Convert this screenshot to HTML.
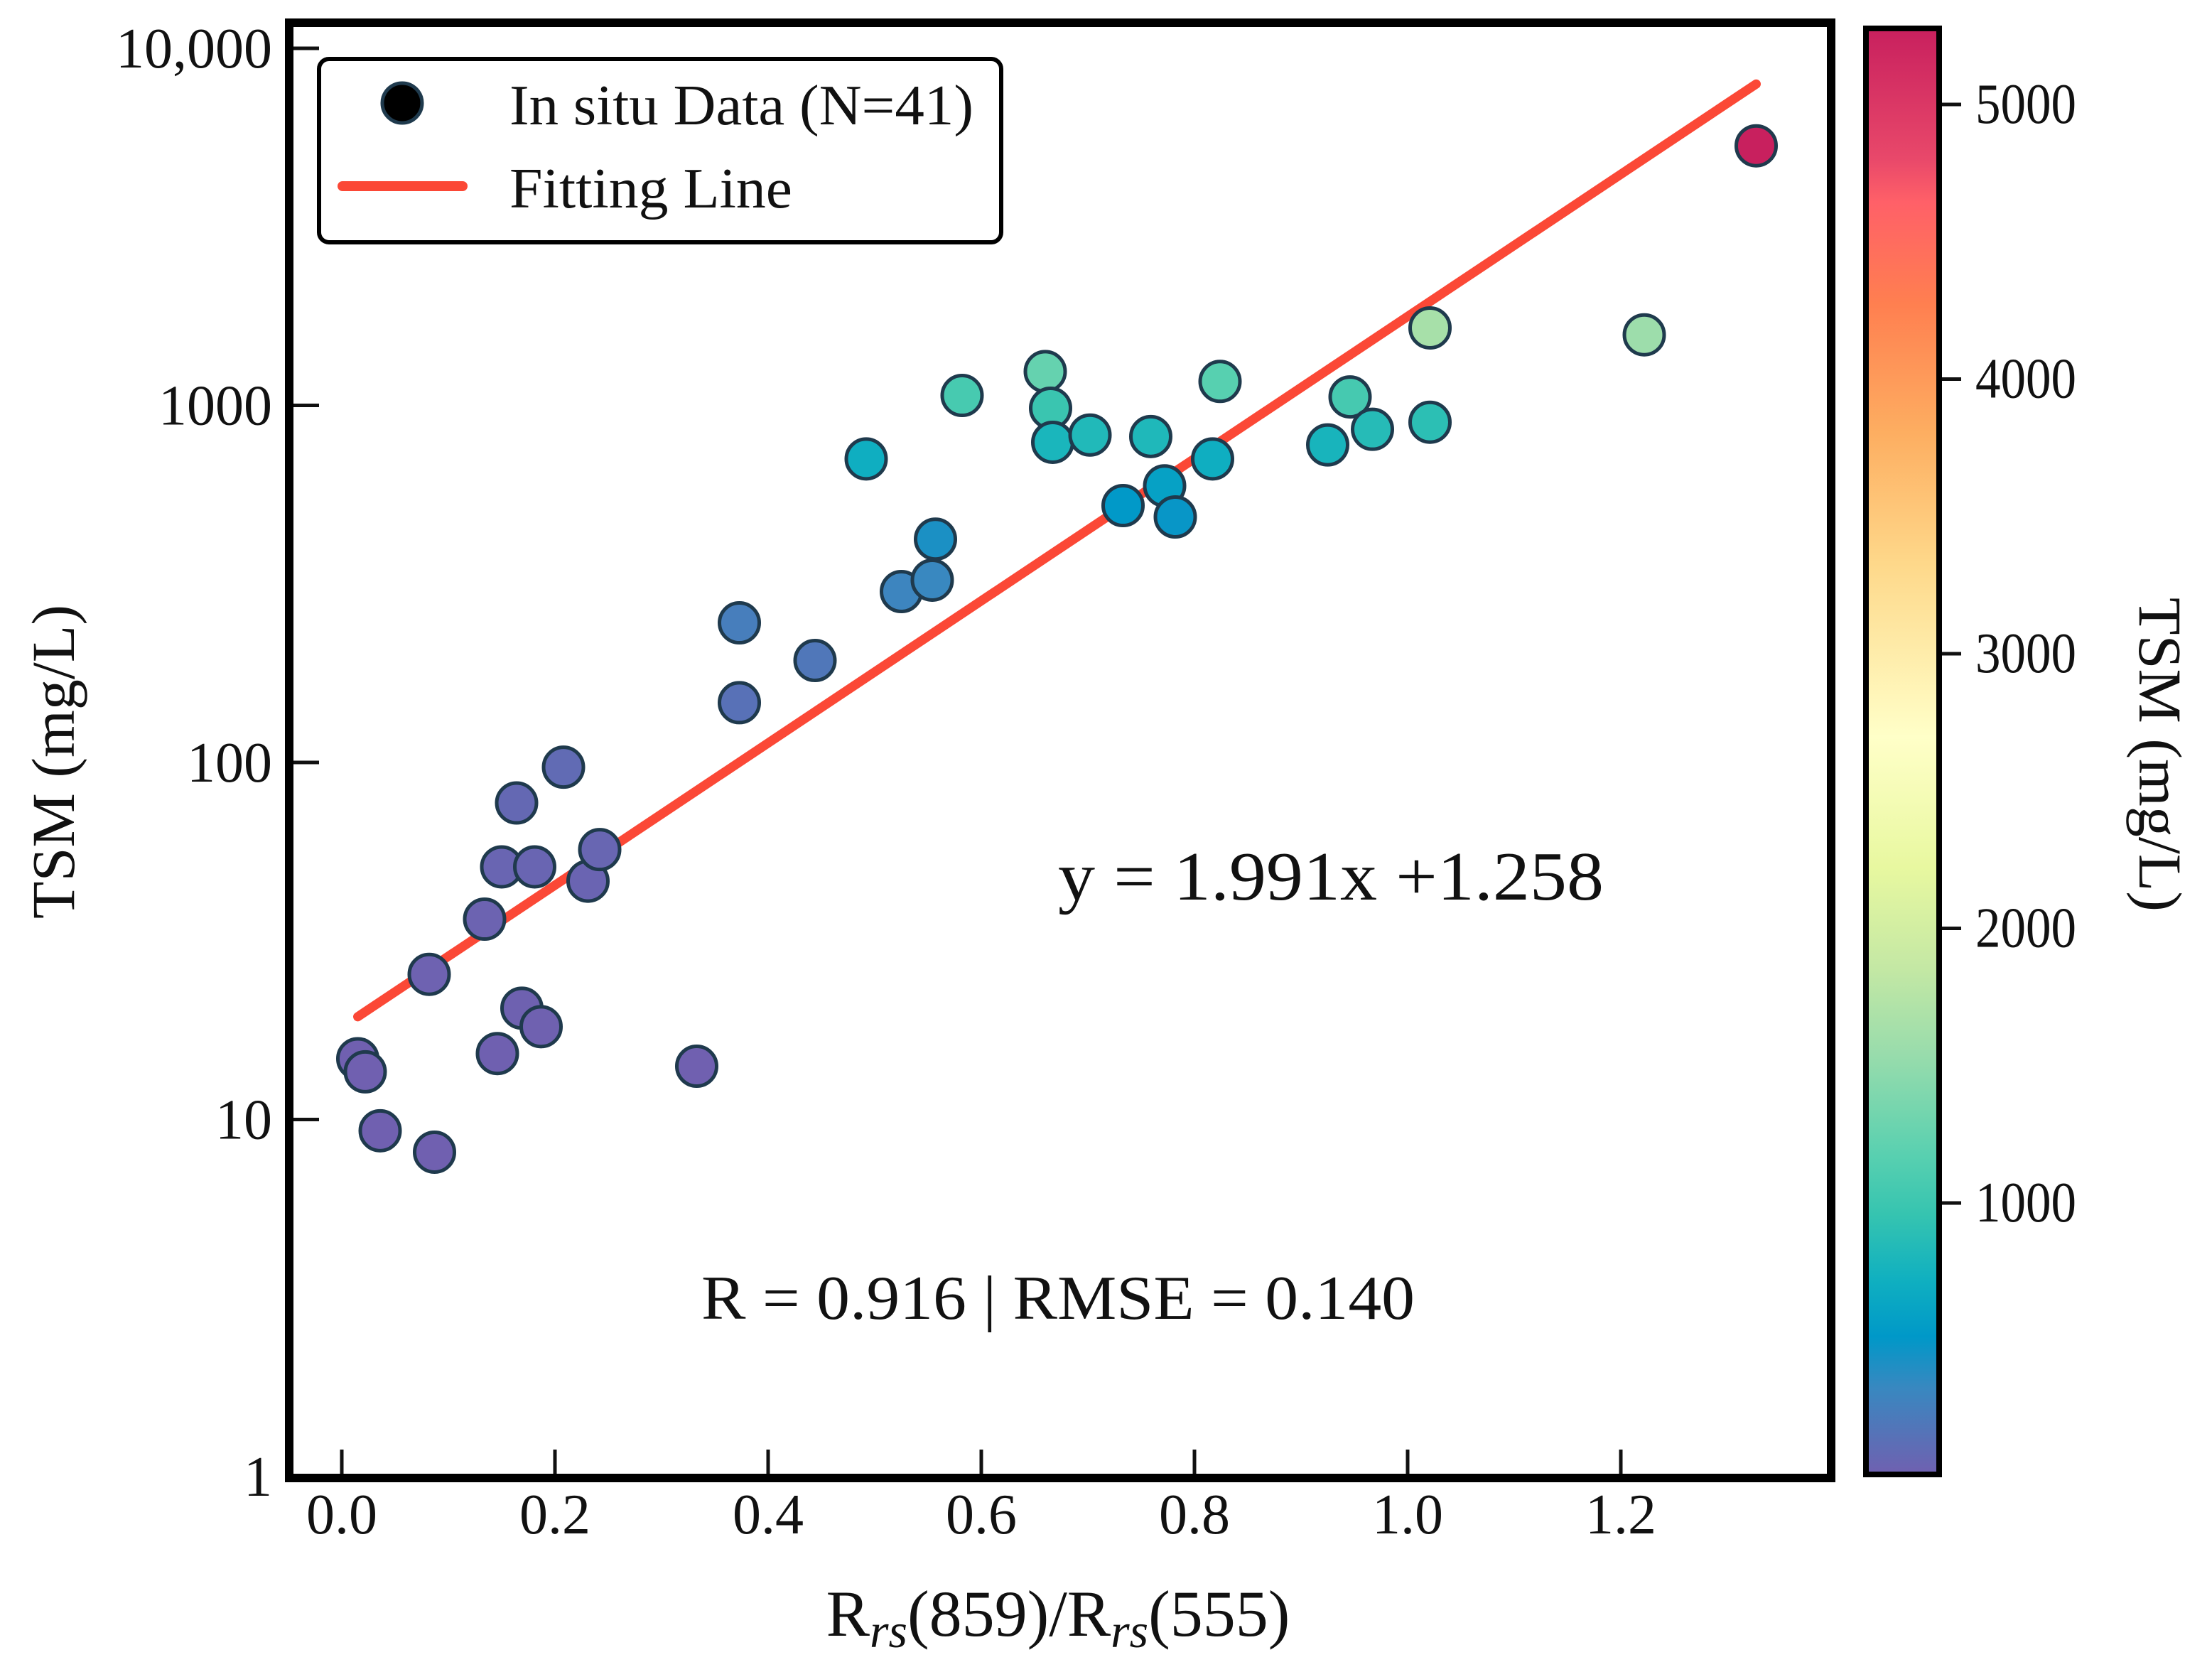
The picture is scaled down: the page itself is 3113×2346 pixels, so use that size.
<!DOCTYPE html>
<html><head><meta charset="utf-8"><style>
html,body{margin:0;padding:0;background:#fff}
svg{display:block}
text{font-family:"Liberation Serif",serif;fill:#111}
</style></head><body>
<svg id="chart" width="3113" height="2346" viewBox="0 0 3113 2346" xmlns="http://www.w3.org/2000/svg">
<defs>
<linearGradient id="cbgrad" x1="0" y1="1" x2="0" y2="0">
<stop offset="0" stop-color="#7060b0"/>
<stop offset="0.06" stop-color="#3888c0"/>
<stop offset="0.095" stop-color="#0098c8"/>
<stop offset="0.135" stop-color="#10b0c0"/>
<stop offset="0.18" stop-color="#36c4b0"/>
<stop offset="0.22" stop-color="#58d0b0"/>
<stop offset="0.29" stop-color="#98dcac"/>
<stop offset="0.35" stop-color="#c4e8a4"/>
<stop offset="0.42" stop-color="#e8f8a0"/>
<stop offset="0.51" stop-color="#ffffc8"/>
<stop offset="0.63" stop-color="#fed88a"/>
<stop offset="0.72" stop-color="#fdae61"/>
<stop offset="0.81" stop-color="#ff7f50"/>
<stop offset="0.88" stop-color="#ff6068"/>
<stop offset="0.91" stop-color="#e8486a"/>
<stop offset="1" stop-color="#c8205e"/>
</linearGradient>
</defs>
<g id="plot"></g>
</svg>
<script>
const xVals=[0.015,0.022,0.036,0.087,0.082,0.134,0.146,0.150,0.164,0.169,0.181,0.187,0.208,0.231,0.242,0.333,0.373,0.373,0.444,0.492,0.525,0.554,0.557,0.582,0.660,0.665,0.667,0.702,0.733,0.759,0.772,0.782,0.817,0.824,0.925,0.946,0.967,1.021,1.021,1.222,1.327];
const tsmVals=[14.8,13.6,9.3,8.1,25.5,36.4,15.3,51,77,20.5,51,18.2,97,46.5,57,14.1,147,246,193,708,301,324,422,1066,1244,982,788,826,524,818,595,487,708,1167,775,1056,857,1648,897,1576,5333];
const xTicks=[0,0.2,0.4,0.6,0.8,1.0,1.2];
const xTickLabels=["0.0","0.2","0.4","0.6","0.8","1.0","1.2"];
const yTicks=[1,10,100,1000,10000];
const yTickLabels=["1","10","100","1000","10,000"];
const cbTicks=[1000,2000,3000,4000,5000];
const cbTickLabels=["1000","2000","3000","4000","5000"];
const fitSlope=1.991, fitIntercept=1.258;
const fitRange=[0.015,1.327];

const NS="http://www.w3.org/2000/svg";
const svg=document.getElementById('chart');
function el(tag,attrs,parent){const e=document.createElementNS(NS,tag);for(const k in attrs)e.setAttribute(k,attrs[k]);(parent||svg).appendChild(e);return e;}
const L=407,R=2577,T=32,B=2080;
function sx(v){return 481+v*1500;}
function sy(v){return 2078-Math.log10(v)*502.5;}
function cy(v){return 1693-(v-1000)*0.3865;}
const cmin=12,cmax=5277;
const stops=[[0,"#7060b0"],[0.06,"#3888c0"],[0.095,"#0098c8"],[0.135,"#10b0c0"],[0.18,"#36c4b0"],[0.22,"#58d0b0"],[0.29,"#98dcac"],[0.35,"#c4e8a4"],[0.42,"#e8f8a0"],[0.51,"#ffffc8"],[0.63,"#fed88a"],[0.72,"#fdae61"],[0.81,"#ff7f50"],[0.88,"#ff6068"],[0.91,"#e8486a"],[1,"#c8205e"]];
function hex(h){return [1,3,5].map(i=>parseInt(h.substr(i,2),16));}
function cmap(v){let t=(v-cmin)/(cmax-cmin);t=Math.max(0,Math.min(1,t));for(let i=1;i<stops.length;i++){if(t<=stops[i][0]){const a=stops[i-1],b=stops[i];const f=(t-a[0])/(b[0]-a[0]);const ca=hex(a[1]),cb=hex(b[1]);return 'rgb('+ca.map((c,j)=>Math.round(c+(cb[j]-c)*f)).join(',')+')';}}return stops[stops.length-1][1];}

xTicks.forEach((v,i)=>{
  const t=el('line',{x1:sx(v),x2:sx(v),y1:B,y2:B-40,stroke:'#111','stroke-width':5});
  
  
  const lb=el('text',{x:sx(v),y:2158,'font-size':80,'text-anchor':'middle'});
  lb.textContent=xTickLabels[i];
  
  
});
yTicks.forEach((v,i)=>{
  const t=el('line',{x1:L,x2:L+42,y1:sy(v),y2:sy(v),stroke:'#111','stroke-width':5});
  
  
  const lb=el('text',{x:383,y:sy(v)+27,'font-size':80,'text-anchor':'end'});
  lb.textContent=yTickLabels[i];
  
  
});

const fit=el('line',{x1:sx(fitRange[0]),y1:sy(Math.pow(10,fitSlope*fitRange[0]+fitIntercept)),x2:sx(fitRange[1]),y2:sy(Math.pow(10,fitSlope*fitRange[1]+fitIntercept)),stroke:'#fb4836','stroke-width':13,'stroke-linecap':'round'});



xVals.forEach((x,i)=>{
  const c=el('circle',{cx:sx(x),cy:sy(tsmVals[i]),r:28,fill:cmap(tsmVals[i]),stroke:'#1f3a4d','stroke-width':5});
  
  
});

const fr=el('rect',{x:L,y:T,width:R-L,height:B-T,fill:'none',stroke:'#000','stroke-width':12});



const lg=el('g',{});


el('rect',{x:449,y:83,width:960,height:258,rx:14,fill:'#fff',stroke:'#000','stroke-width':6},lg);
const lm=el('circle',{cx:566,cy:145,r:28,fill:'#000',stroke:'#1f3a4d','stroke-width':5},lg);


const ll=el('line',{x1:482,x2:651,y1:262,y2:262,stroke:'#fb4836','stroke-width':14,'stroke-linecap':'round'},lg);


const lt1=el('text',{x:717,y:175,'font-size':80,textLength:653,lengthAdjust:'spacingAndGlyphs'},lg);
lt1.textContent='In situ Data (N=41)';


const lt2=el('text',{x:717,y:292,'font-size':80,textLength:398,lengthAdjust:'spacingAndGlyphs'},lg);
lt2.textContent='Fitting Line';



const eq=el('text',{x:1489,y:1266,'font-size':98,textLength:768,lengthAdjust:'spacingAndGlyphs'});
eq.textContent='y = 1.991x +1.258';


const st=el('text',{x:987,y:1856,'font-size':88,textLength:1004,lengthAdjust:'spacingAndGlyphs'});
st.textContent='R = 0.916 | RMSE = 0.140';



const xt=el('text',{x:1489,y:2302,'font-size':92,'text-anchor':'middle'});
xt.innerHTML='R<tspan font-style="italic" font-size="68" dy="16">rs</tspan><tspan dy="-16">(859)/R</tspan><tspan font-style="italic" font-size="68" dy="16">rs</tspan><tspan dy="-16">(555)</tspan>';


const yt=el('text',{x:0,y:0,'font-size':86,'text-anchor':'middle',transform:'translate(104,1072) rotate(-90)'});
yt.textContent='TSM (mg/L)';



const cb=el('rect',{x:2626,y:40,width:103,height:2035,fill:'url(#cbgrad)',stroke:'#000','stroke-width':8});


cbTicks.forEach((v,i)=>{
  const t=el('line',{x1:2733,x2:2760,y1:cy(v),y2:cy(v),stroke:'#111','stroke-width':5});
  
  
  const lb=el('text',{x:2780,y:cy(v)+26,'font-size':80,textLength:142,lengthAdjust:'spacingAndGlyphs'});
  lb.textContent=cbTickLabels[i];
  
  
});
const ct=el('text',{x:0,y:0,'font-size':86,'text-anchor':'middle',transform:'translate(3011,1062) rotate(90)'});
ct.textContent='TSM (mg/L)';


</script>
</body></html>
